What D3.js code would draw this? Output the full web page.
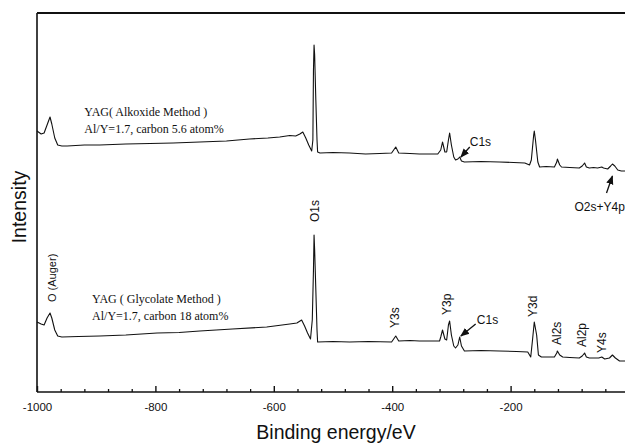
<!DOCTYPE html>
<html>
<head>
<meta charset="utf-8">
<script src="https://cdn.jsdelivr.net/npm/d3@7"></script>
<style>
body { margin: 0; background: #fff; }
svg { display: block; }
.tick-label { font-family: "Liberation Sans", Arial, sans-serif; font-size: 11.5px; fill: #111; }
.axis-title { font-family: "Liberation Sans", Arial, sans-serif; font-size: 19.5px; fill: #111; }
.note { font-family: "Liberation Serif", "Times New Roman", serif; font-size: 12px; fill: #111; }
.peak { font-family: "Liberation Sans", Arial, sans-serif; font-size: 12px; fill: #111; }
</style>
</head>
<body>
<script>
// binding energy (eV, negative scale) and intensity (a.u., curves offset)
var alkoxideBE = [-1000,-993,-988,-983,-978,-975,-970,-965,-958,-949,-920,-894,-850,-809,-770,-725,-680,-641,-610,-590,-573,-563,-556,-551,-546,-541,-536,-534,-533,-532,-531,-529,-527,-526,-522,-500,-472,-445,-421,-401,-394,-389,-370,-354,-323,-318,-315,-311,-308,-305,-303,-300,-296,-293,-289,-286,-283,-278,-250,-219,-195,-176,-168,-165,-161,-160,-158,-154,-151,-140,-126,-122,-121,-117,-114,-100,-84,-79,-75,-72,-67,-60,-53,-46,-43,-36,-31,-28,-24,-19,-13,-8,0];
var alkoxideI  = [261,258,259,267,275,268,254,247,246,246,247,247,248,248.5,249,250,251,253,254,255,256.5,256,258,260,254,247,241,252,322,347,337,292,252,240,239,239.5,239,238,238.5,239,245,239,238.5,238,238,242,250,240,240,252,259,247,235,232,233,235,231,230,230.5,230,229.5,229,227,232,257,261,252,230,225,225.5,225,230,233,227,225,224.5,224,226,229,225,224,224.5,224,225,224,223,226,228,226,222,221,221,221];

var glycolateBE = [-1000,-993,-988,-983,-978,-975,-970,-965,-958,-930,-894,-850,-797,-760,-725,-670,-612,-573,-561,-553,-548,-543,-538,-535,-533,-532,-531,-529,-527,-526,-500,-472,-440,-401,-394,-389,-370,-354,-320,-318,-315,-311,-308,-305,-303,-300,-296,-293,-289,-286,-283,-278,-250,-219,-190,-171,-166,-163,-160,-156,-153,-148,-126,-122,-121,-117,-112,-100,-84,-79,-75,-72,-67,-51,-46,-41,-33,-28,-23,-16,-8,0];
var glycolateI  = [70,68,67,74,79,74,62,56,55,55.5,56,57,59,59.5,61,63,65,68,69,72,66,59,53,72,122,157,142,102,62,50,50.5,50,50.5,50,56,51,51.5,51,51,55,62,53,52,67,71,57,46,44,47,55,46,41,41.5,41,40.5,40,35,52,70,57,37,35,35,39,41,37,35,34.5,34,36,39,35,34,34,35,33,34,37,34,31,31,31];

var xTicks = [-1000, -800, -600, -400, -200];
var xMinorTicks = d3.range(-960, 0, 40).filter(function (d) { return d % 200 !== 0; });

var peakLabels = [
	{ text: "O (Auger)", be: -975, i: 90, size: 11 },
	{ text: "O1s", be: -531, i: 170, size: 12 },
	{ text: "Y3s", be: -396, i: 64, size: 12 },
	{ text: "Y3p", be: -308, i: 77, size: 12 },
	{ text: "Y3d", be: -163, i: 75, size: 12 },
	{ text: "Al2s", be: -121, i: 47, size: 12 },
	{ text: "Al2p", be: -80, i: 45, size: 12 },
	{ text: "Y4s", be: -46, i: 39, size: 12 }
];

var width = 625, height = 444;
var margin = { top: 13, left: 37, bottom: 52 };

var svg = d3.select("body").append("svg")
	.attr("width", width)
	.attr("height", height);

svg.append("defs").append("marker")
	.attr("id", "arrow")
	.attr("viewBox", "0 0 10 10")
	.attr("refX", 9).attr("refY", 5)
	.attr("markerWidth", 7).attr("markerHeight", 7)
	.attr("orient", "auto")
	.append("path")
	.attr("d", "M0,1L10,5L0,9Z")
	.attr("fill", "#111");

var x = d3.scaleLinear()
	.domain([-1000, 0])
	.range([margin.left, 629]);

var y = d3.scaleLinear()
	.domain([0, 379])
	.range([height - margin.bottom, margin.top]);

var line = d3.line()
	.x(d => x(d[0]))
	.y(d => y(d[1]));

var series = [d3.zip(alkoxideBE, alkoxideI), d3.zip(glycolateBE, glycolateI)];

svg.append("g").selectAll("path")
	.data(series)
	.enter().append("path")
	.attr("d", line)
	.attr("fill", "none")
	.attr("stroke", "#111")
	.attr("stroke-width", 1.1)
	.attr("stroke-linejoin", "round");

// frame: left axis, top line, bottom axis
var y0 = y(0), yTop = y.range()[1];
svg.append("line")
	.attr("x1", x(-1000)).attr("x2", x(-1000))
	.attr("y1", yTop).attr("y2", y0)
	.attr("stroke", "#111").attr("stroke-width", 1.6);
svg.append("line")
	.attr("x1", x(-1000)).attr("x2", width)
	.attr("y1", yTop).attr("y2", yTop)
	.attr("stroke", "#111").attr("stroke-width", 2);
svg.append("line")
	.attr("x1", x(-1000)).attr("x2", width)
	.attr("y1", y0).attr("y2", y0)
	.attr("stroke", "#111").attr("stroke-width", 1.6);

var xAxis = d3.axisBottom(x)
	.tickValues(xTicks)
	.tickSizeInner(-6)
	.tickSizeOuter(0)
	.tickPadding(11)
	.tickFormat(d3.format("d"));

var xAxisElem = svg.append("g")
	.attr("transform", "translate(0," + y0 + ")")
	.call(xAxis);
xAxisElem.select(".domain").remove();
xAxisElem.selectAll("line").attr("stroke", "#111").attr("stroke-width", 1.4);
xAxisElem.selectAll("text")
	.attr("class", "tick-label")
	.attr("font-family", null).attr("font-size", null)
	.text(d => d === 0 ? "0" : "-" + Math.abs(d));

var minorAxis = svg.append("g")
	.attr("transform", "translate(0," + y0 + ")")
	.call(d3.axisBottom(x).tickValues(xMinorTicks).tickSizeInner(-3).tickSizeOuter(0).tickFormat(""));
minorAxis.select(".domain").remove();
minorAxis.selectAll("line").attr("stroke", "#111").attr("stroke-width", 1.3);

svg.append("text")
	.attr("class", "axis-title")
	.attr("x", 336)
	.attr("y", 439)
	.attr("text-anchor", "middle")
	.text("Binding energy/eV");

svg.append("text")
	.attr("class", "axis-title")
	.attr("text-anchor", "middle")
	.attr("transform", "translate(" + 26 + "," + 207 + ") rotate(-90)")
	.text("Intensity");

// sample notes
var notes = [
	{ lines: ["YAG( Alkoxide Method )", "Al/Y=1.7, carbon 5.6 atom%"], be: -920, i: 276 },
	{ lines: ["YAG ( Glycolate Method )", "Al/Y=1.7, carbon 18 atom%"], be: -907, i: 89 }
];
notes.forEach(function (n) {
	n.lines.forEach(function (t, k) {
		svg.append("text")
			.attr("class", "note")
			.attr("x", x(n.be))
			.attr("y", y(n.i) + k * 17)
			.text(t);
	});
});

// rotated peak labels
svg.append("g").selectAll("text")
	.data(peakLabels)
	.enter().append("text")
	.attr("class", "peak")
	.style("font-size", d => d.size + "px")
	.attr("transform", d => "translate(" + (x(d.be) + 4) + "," + y(d.i) + ") rotate(-90)")
	.text(d => d.text);

// arrow annotations
var arrows = [
	{ text: "C1s", tx: -257, ti: 68, from: [-259, 68], to: [-284, 56] },
	{ text: "C1s", tx: -269, ti: 246, from: [-269, 245], to: [-284, 235] },
	{ text: "O2s+Y4p", tx: -92, ti: 181, from: [-38, 199], to: [-28, 216] }
];
arrows.forEach(function (a) {
	svg.append("line")
		.attr("x1", x(a.from[0])).attr("y1", y(a.from[1]))
		.attr("x2", x(a.to[0])).attr("y2", y(a.to[1]))
		.attr("stroke", "#111").attr("stroke-width", 1.3)
		.attr("marker-end", "url(#arrow)");
	svg.append("text")
		.attr("class", "peak")
		.attr("x", x(a.tx))
		.attr("y", y(a.ti))
		.style("font-size", "12px")
		.text(a.text);
});
</script>
</body>
</html>
